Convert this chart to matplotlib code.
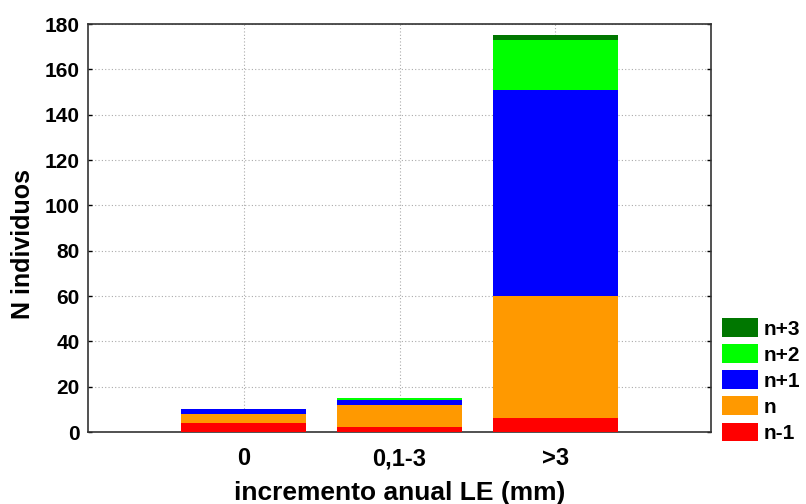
import matplotlib
matplotlib.use("Agg")
import matplotlib.pyplot as plt
import numpy as np
from matplotlib.patches import Patch

plt.rcParams['font.family'] = ['Liberation Sans', 'DejaVu Sans']
plt.rcParams['font.weight'] = 'bold'

categories = ["0", "0,1-3", ">3"]
series_names = ["n-1", "n", "n+1", "n+2", "n+3"]
n_minus1 = [4, 2, 6]
n_0 = [4, 10, 54]
n_plus1 = [2, 2, 91]
n_plus2 = [0, 1, 22]
n_plus3 = [0, 0, 2]
colors = ["#ff0000", "#ff9900", "#0000ff", "#00ff00", "#007700"]

series = [n_minus1, n_0, n_plus1, n_plus2, n_plus3]

fig = plt.figure(figsize=(8.06, 5.04), dpi=100)
ax = fig.add_axes([88/806, 1 - 432/504, (711 - 88)/806, (432 - 24)/504])

x = np.arange(len(categories))
bottom = np.zeros(len(categories))
for vals, col in zip(series, colors):
    ax.bar(x, vals, width=0.8, bottom=bottom, color=col, edgecolor='none', zorder=3)
    bottom += np.array(vals)

ax.set_xlim(-1, 3)
ax.set_ylim(0, 180)
ax.set_yticks(np.arange(0, 181, 20))
ax.set_xticks(x)
ax.set_xticklabels(categories)
ax.grid(True, linestyle=(0, (1, 2)), color='#aaaaaa', linewidth=0.8, zorder=0)
ax.tick_params(axis='y', labelsize=15, length=3, width=1, right=True,
               direction='in', pad=6)
ax.tick_params(axis='x', labelsize=17, length=0, pad=11)
for lab in ax.get_xticklabels() + ax.get_yticklabels():
    lab.set_fontweight('bold')
for s in ax.spines.values():
    s.set_linewidth(1.2)
    s.set_color('#333333')

ax.set_xlabel("incremento anual LE (mm)", fontsize=19, fontweight='bold', labelpad=8)
ax.set_ylabel("N individuos", fontsize=18, fontweight='bold')
ax.yaxis.set_label_coords(-0.085, 0.46)

handles = [Patch(facecolor=c, edgecolor='none') for c in colors][::-1]
labels = series_names[::-1]
fig.legend(handles, labels, loc='lower left', bbox_to_anchor=(722/806, 1 - 443/504),
           frameon=False, handlelength=1.75, handleheight=1.0,
           handletextpad=0.25, labelspacing=0.27, borderaxespad=0, borderpad=0,
           prop={'weight': 'bold', 'size': 15})

fig.savefig("out.png", dpi=100)
